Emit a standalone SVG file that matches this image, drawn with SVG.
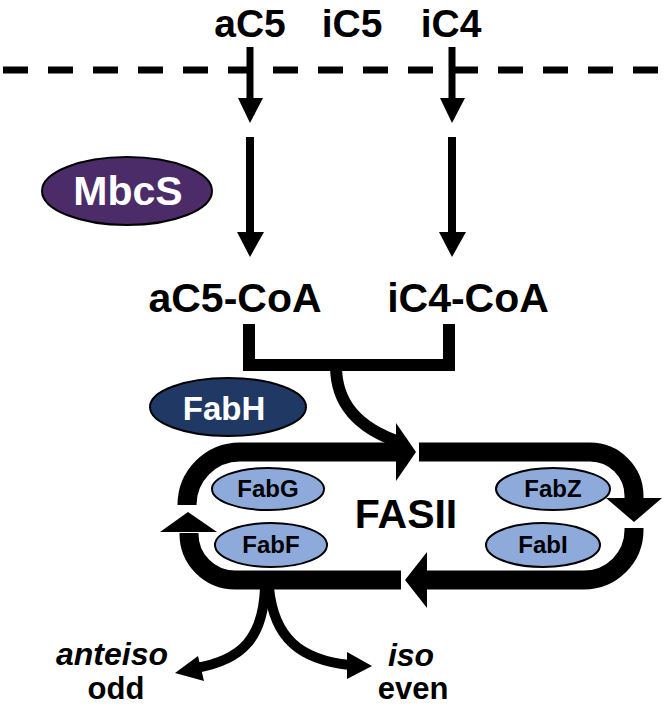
<svg xmlns="http://www.w3.org/2000/svg" width="664" height="708" viewBox="0 0 664 708">
<style>
.lbl{font-family:"Liberation Sans",Arial,sans-serif;font-weight:bold;fill:#000;text-anchor:middle}
.big{font-size:41px}
.top{font-size:39px}
.enz{font-size:24px}
.wt{fill:#fff}
.dark{stroke:#000;stroke-width:2}
.light{fill:#8eaadb;stroke:#000;stroke-width:2}
.bar{fill:none;stroke:#000;stroke-linecap:butt}
</style>
<rect width="664" height="708" fill="#fff"/>
<g id="membrane">
<line x1="3" y1="70" x2="664" y2="70" stroke="#000" stroke-width="7" stroke-dasharray="25 20"/>
</g>
<g id="labels-top">
<text class="lbl top" x="250" y="37">aC5</text>
<text class="lbl top" x="352" y="37">iC5</text>
<text class="lbl top" x="451" y="37">iC4</text>
</g>
<g id="aC5-CoA"><text class="lbl big" x="235" y="312">aC5-CoA</text></g>
<g id="iC4-CoA"><text class="lbl big" x="468" y="312">iC4-CoA</text></g>
<g id="MbcS">
<ellipse class="dark" cx="127" cy="191" rx="85" ry="34" fill="#4b2c69"/>
<text class="lbl wt" x="128" y="205" font-size="41">MbcS</text>
</g>
<g id="FabH">
<ellipse class="dark" cx="228" cy="407" rx="78" ry="29" fill="#1f3864"/>
<text class="lbl wt" x="224" y="420" font-size="33">FabH</text>
</g>
<g id="FASII"><text class="lbl" x="406" y="528" font-size="41">FASII</text></g>
<g id="FabG"><ellipse class="light" cx="268" cy="489" rx="56" ry="21"/><text class="lbl enz" x="268" y="497">FabG</text></g>
<g id="FabF"><ellipse class="light" cx="271" cy="545" rx="56" ry="22"/><text class="lbl enz" x="271" y="553">FabF</text></g>
<g id="FabZ"><ellipse class="light" cx="553" cy="489" rx="57" ry="21"/><text class="lbl enz" x="553" y="497">FabZ</text></g>
<g id="FabI"><ellipse class="light" cx="543" cy="545" rx="57" ry="22"/><text class="lbl enz" x="543" y="553">FabI</text></g>
<g id="anteiso-odd">
<text class="lbl" x="112" y="665" font-size="32" font-style="italic">anteiso</text>
<text class="lbl" x="116" y="699" font-size="31">odd</text>
</g>
<g id="iso-even">
<text class="lbl" x="411" y="666" font-size="32" font-style="italic">iso</text>
<text class="lbl" x="413" y="699" font-size="31">even</text>
</g>
<g id="connectors">
<line x1="250" y1="47" x2="250" y2="100" stroke="#000" stroke-width="7"/>
<polygon points="238,98 263,98 250,123"/>
<line x1="452" y1="47" x2="452" y2="100" stroke="#000" stroke-width="7"/>
<polygon points="440,98 465,98 452,123"/>
<line x1="250" y1="137" x2="250" y2="234" stroke="#000" stroke-width="8"/>
<polygon points="237,232 264,232 250,257"/>
<line x1="452" y1="137" x2="452" y2="234" stroke="#000" stroke-width="8"/>
<polygon points="439,232 466,232 452,257"/>
<path class="bar" d="M249,324 L249,365 L449,365 L449,324" stroke-width="12" stroke-linejoin="miter"/>
<path class="bar" d="M336,366 C336,402 356,428 402,443" stroke-width="12"/>
<path class="bar" d="M187,505 A53,53 0 0 1 240,452 L398,452" stroke-width="19"/>
<polygon points="396,423 416,452 396,481"/>
<path class="bar" d="M419,452 L590,452 A44,44 0 0 1 634,496 L634,500" stroke-width="19"/>
<polygon points="606,498 662,498 634,522"/>
<path class="bar" d="M634,528 L634,530 A50,50 0 0 1 584,580 L426,580" stroke-width="19"/>
<polygon points="427,552 405,580 427,608"/>
<path class="bar" d="M401,580 L235,580 A46,46 0 0 1 189,534 L189,533" stroke-width="19"/>
<polygon points="160,532 217,532 188,512"/>
<path class="bar" d="M265,588 C263,638 242,660 196,668" stroke-width="10"/>
<polygon points="175,673 198,656 204,681"/>
<path class="bar" d="M269,588 C274,638 300,660 350,665" stroke-width="10"/>
<polygon points="372,666 347,652 347,679"/>
</g>
</svg>
